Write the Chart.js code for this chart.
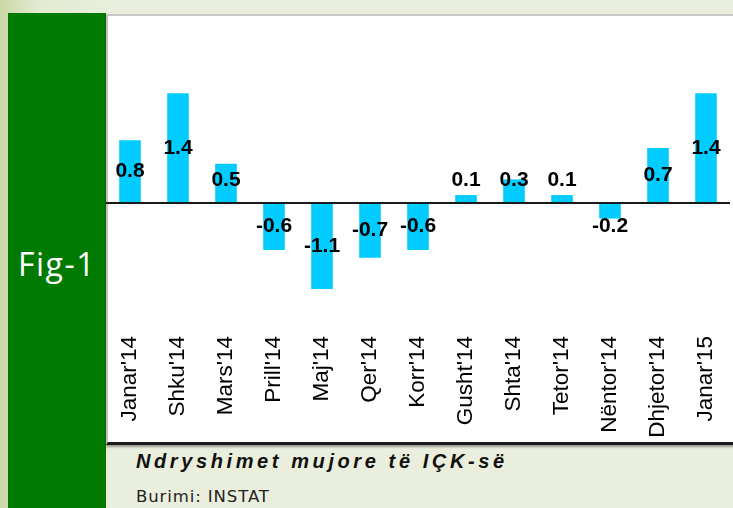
<!DOCTYPE html>
<html lang="sq">
<head>
  <meta charset="UTF-8">
  <title>Fig-1 - Ndryshimet mujore të IÇK-së</title>
  <script src="https://cdn.jsdelivr.net/npm/chart.js"></script>
  <style>
    /* faqja */
    body {
      margin: 0;
      width: 733px;
      height: 508px;
      overflow: hidden;
      position: relative;
      background: linear-gradient(to right, #cbd8a6 0px, #e3ebd2 40px, #e9efdc 120px, #e9efdc 100%);
      font-family: "Liberation Sans", Arial, sans-serif;
    }
    .fig {
      position: absolute;
      left: 8px; top: 13px;
      width: 98px; height: 495px;
      background-color: #007a00;
    }
    .fig span {
      position: absolute;
      left: 0; width: 100%;
      top: 235px;
      line-height: 1;
      text-align: center;
      color: #fff;
      font-family: "Open Sans", sans-serif;
      font-size: 32px;
      letter-spacing: 1.5px;
    }
    .panel {
      position: absolute;
      left: 106px; top: 14px;
      width: 627px; height: 426px;
      background-color: #fff;
      border-top: 2px solid #c8c8c8;
      border-left: 2px solid #c0c0c0;
      border-bottom: 3px solid #1a1a1a;
      box-shadow: 0 2px 2px rgba(0, 0, 0, 0.35);
    }
    .chart-box {
      position: absolute;
      left: 106px; top: 15px;
      width: 627px; height: 425px;
    }
    .titulli {
      position: absolute;
      left: 136px; top: 450px;
      font-size: 20px;
      font-weight: bold;
      font-style: italic;
      letter-spacing: 3.6px;
      color: #111;
    }
    .burimi {
      position: absolute;
      left: 136px; top: 487px;
      font-family: "DejaVu Sans", sans-serif;
      font-size: 16.5px;
      letter-spacing: 0.9px;
      color: #222;
    }
  </style>
</head>
<body>
  <div class="fig"><span>Fig-1</span></div>
  <div class="panel"></div>
  <div class="chart-box"><canvas id="ickChart"></canvas></div>
  <div class="titulli">Ndryshimet mujore të IÇK-së</div>
  <div class="burimi">Burimi: INSTAT</div>

  <script>
    // te dhenat
    var muajt = ["Janar'14", "Shku'14", "Mars'14", "Prill'14", "Maj'14", "Qer'14", "Korr'14",
                 "Gusht'14", "Shta'14", "Tetor'14", "Nëntor'14", "Dhjetor'14", "Janar'15"];
    var ndryshimet = [0.8, 1.4, 0.5, -0.6, -1.1, -0.7, -0.6, 0.1, 0.3, 0.1, -0.2, 0.7, 1.4];

    // vija e zeros dhe etiketat e vlerave
    var vleratPlugin = {
      id: 'vlerat',
      afterDatasetsDraw: function(chart) {
        var ctx = chart.ctx;
        var y = chart.scales.y;
        var area = chart.chartArea;
        var y0 = y.getPixelForValue(0);
        ctx.save();
        ctx.strokeStyle = '#1a1a1a';
        ctx.lineWidth = 2;
        ctx.beginPath();
        ctx.moveTo(area.left, y0);
        ctx.lineTo(area.right, y0);
        ctx.stroke();

        ctx.font = 'bold 21px "Liberation Sans", Arial, sans-serif';
        ctx.fillStyle = '#000';
        ctx.textAlign = 'center';
        ctx.textBaseline = 'middle';
        var meta = chart.getDatasetMeta(0);
        meta.data.forEach(function(bar, i) {
          var v = ndryshimet[i];
          var mid = (bar.y + y0) / 2;
          var d = Math.max(Math.abs(mid - y0), 23);
          var ty = v >= 0 ? y0 - d : y0 + d;
          ctx.fillText(v.toFixed(1), bar.x, ty);
        });
        ctx.restore();
      }
    };

    var ctx = document.getElementById('ickChart').getContext('2d');
    var ickChart = new Chart(ctx, {
      type: 'bar',
      data: {
        labels: muajt,
        datasets: [{
          data: ndryshimet,
          backgroundColor: '#00ccff',
          borderWidth: 0,
          barPercentage: 0.45,
          categoryPercentage: 1.0
        }]
      },
      options: {
        responsive: true,
        maintainAspectRatio: false,
        animation: false,
        layout: { padding: 0 },
        plugins: {
          legend: { display: false },
          tooltip: { enabled: false }
        },
        scales: {
          x: {
            grid: { display: false, drawTicks: false },
            border: { display: false },
            ticks: {
              color: '#000',
              font: { family: '"Liberation Sans", Arial, sans-serif', size: 22.5 },
              minRotation: 90,
              maxRotation: 90,
              padding: 0,
              autoSkip: false
            },
            afterFit: function(scale) { scale.height = 104; }
          },
          y: {
            display: false,
            min: -1.7,
            max: 2.4
          }
        }
      },
      plugins: [vleratPlugin]
    });
  </script>
</body>
</html>
